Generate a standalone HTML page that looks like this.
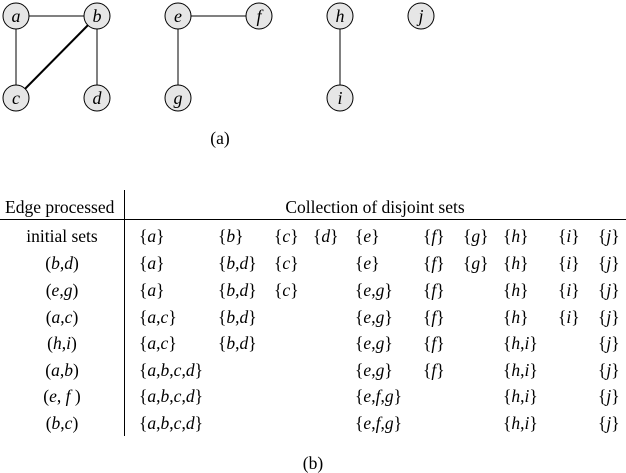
<!DOCTYPE html>
<html><head><meta charset="utf-8"><style>
html,body{margin:0;padding:0;background:#fff;}
svg{display:block;}
text{font-family:"Liberation Serif",serif;font-size:17.5px;fill:#000;}
text.n{font-style:italic;font-size:18px;}
.s{font-style:italic;}
</style></head><body>
<svg width="626" height="473" viewBox="0 0 626 473" xmlns="http://www.w3.org/2000/svg">
<g stroke="#000" stroke-width="1">
<line x1="16" y1="16" x2="97" y2="16"/>
<line x1="16" y1="16" x2="16" y2="98"/>
<line x1="97" y1="16" x2="97" y2="98"/>
<line x1="97" y1="16" x2="16" y2="98" stroke-width="2"/>
<line x1="178" y1="16" x2="259" y2="16"/>
<line x1="178" y1="16" x2="178" y2="98"/>
<line x1="340" y1="16" x2="340" y2="98"/>
</g>
<g fill="#e6e6e6" stroke="#000" stroke-width="1">
<circle cx="16" cy="16" r="13"/><circle cx="97" cy="16" r="13"/>
<circle cx="16" cy="98" r="13"/><circle cx="97" cy="98" r="13"/>
<circle cx="178" cy="16" r="13"/><circle cx="259" cy="16" r="13"/>
<circle cx="178" cy="98" r="13"/><circle cx="340" cy="16" r="13"/>
<circle cx="340" cy="98" r="13"/><circle cx="421" cy="16" r="13"/>
</g>
<g text-anchor="middle">
<text class="n" x="16" y="22">a</text><text class="n" x="97" y="22">b</text>
<text class="n" x="16" y="104">c</text><text class="n" x="97" y="104">d</text>
<text class="n" x="178" y="22">e</text><text class="n" x="259" y="22">f</text>
<text class="n" x="178" y="104">g</text><text class="n" x="340" y="22">h</text>
<text class="n" x="340" y="104">i</text><text class="n" x="421" y="22">j</text>
</g>
<text x="220" y="144" text-anchor="middle">(a)</text>

<line x1="124.5" y1="190" x2="124.5" y2="436" stroke="#000"/>
<line x1="0" y1="219.5" x2="626" y2="219.5" stroke="#000"/>
<text x="5" y="213">Edge processed</text>
<text x="375" y="213" text-anchor="middle">Collection of disjoint sets</text>

<g text-anchor="middle">
<text x="62" y="242">initial sets</text>
<text x="62" y="269">(<tspan class="s">b</tspan>,<tspan class="s">d</tspan>)</text>
<text x="62" y="296">(<tspan class="s">e</tspan>,<tspan class="s">g</tspan>)</text>
<text x="62" y="323">(<tspan class="s">a</tspan>,<tspan class="s">c</tspan>)</text>
<text x="62" y="349">(<tspan class="s">h</tspan>,<tspan class="s">i</tspan>)</text>
<text x="62" y="376">(<tspan class="s">a</tspan>,<tspan class="s">b</tspan>)</text>
<text x="62" y="402">(<tspan class="s">e</tspan>, <tspan class="s">f</tspan> )</text>
<text x="62" y="429">(<tspan class="s">b</tspan>,<tspan class="s">c</tspan>)</text>
</g>

<g>
<text x="139" y="242">{<tspan class="s">a</tspan>}</text><text x="218" y="242">{<tspan class="s">b</tspan>}</text><text x="274" y="242">{<tspan class="s">c</tspan>}</text><text x="313" y="242">{<tspan class="s">d</tspan>}</text><text x="355" y="242">{<tspan class="s">e</tspan>}</text><text x="423" y="242">{<tspan class="s">f</tspan>}</text><text x="463" y="242">{<tspan class="s">g</tspan>}</text><text x="503" y="242">{<tspan class="s">h</tspan>}</text><text x="558" y="242">{<tspan class="s">i</tspan>}</text><text x="598" y="242">{<tspan class="s">j</tspan>}</text>

<text x="139" y="269">{<tspan class="s">a</tspan>}</text><text x="218" y="269">{<tspan class="s">b</tspan>,<tspan class="s">d</tspan>}</text><text x="274" y="269">{<tspan class="s">c</tspan>}</text><text x="355" y="269">{<tspan class="s">e</tspan>}</text><text x="423" y="269">{<tspan class="s">f</tspan>}</text><text x="463" y="269">{<tspan class="s">g</tspan>}</text><text x="503" y="269">{<tspan class="s">h</tspan>}</text><text x="558" y="269">{<tspan class="s">i</tspan>}</text><text x="598" y="269">{<tspan class="s">j</tspan>}</text>

<text x="139" y="296">{<tspan class="s">a</tspan>}</text><text x="218" y="296">{<tspan class="s">b</tspan>,<tspan class="s">d</tspan>}</text><text x="274" y="296">{<tspan class="s">c</tspan>}</text><text x="355" y="296">{<tspan class="s">e</tspan>,<tspan class="s">g</tspan>}</text><text x="423" y="296">{<tspan class="s">f</tspan>}</text><text x="503" y="296">{<tspan class="s">h</tspan>}</text><text x="558" y="296">{<tspan class="s">i</tspan>}</text><text x="598" y="296">{<tspan class="s">j</tspan>}</text>

<text x="139" y="323">{<tspan class="s">a</tspan>,<tspan class="s">c</tspan>}</text><text x="218" y="323">{<tspan class="s">b</tspan>,<tspan class="s">d</tspan>}</text><text x="355" y="323">{<tspan class="s">e</tspan>,<tspan class="s">g</tspan>}</text><text x="423" y="323">{<tspan class="s">f</tspan>}</text><text x="503" y="323">{<tspan class="s">h</tspan>}</text><text x="558" y="323">{<tspan class="s">i</tspan>}</text><text x="598" y="323">{<tspan class="s">j</tspan>}</text>

<text x="139" y="349">{<tspan class="s">a</tspan>,<tspan class="s">c</tspan>}</text><text x="218" y="349">{<tspan class="s">b</tspan>,<tspan class="s">d</tspan>}</text><text x="355" y="349">{<tspan class="s">e</tspan>,<tspan class="s">g</tspan>}</text><text x="423" y="349">{<tspan class="s">f</tspan>}</text><text x="503" y="349">{<tspan class="s">h</tspan>,<tspan class="s">i</tspan>}</text><text x="598" y="349">{<tspan class="s">j</tspan>}</text>

<text x="139" y="376">{<tspan class="s">a</tspan>,<tspan class="s">b</tspan>,<tspan class="s">c</tspan>,<tspan class="s">d</tspan>}</text><text x="355" y="376">{<tspan class="s">e</tspan>,<tspan class="s">g</tspan>}</text><text x="423" y="376">{<tspan class="s">f</tspan>}</text><text x="503" y="376">{<tspan class="s">h</tspan>,<tspan class="s">i</tspan>}</text><text x="598" y="376">{<tspan class="s">j</tspan>}</text>

<text x="139" y="402">{<tspan class="s">a</tspan>,<tspan class="s">b</tspan>,<tspan class="s">c</tspan>,<tspan class="s">d</tspan>}</text><text x="355" y="402">{<tspan class="s">e</tspan>,<tspan class="s">f</tspan>,<tspan class="s">g</tspan>}</text><text x="503" y="402">{<tspan class="s">h</tspan>,<tspan class="s">i</tspan>}</text><text x="598" y="402">{<tspan class="s">j</tspan>}</text>

<text x="139" y="429">{<tspan class="s">a</tspan>,<tspan class="s">b</tspan>,<tspan class="s">c</tspan>,<tspan class="s">d</tspan>}</text><text x="355" y="429">{<tspan class="s">e</tspan>,<tspan class="s">f</tspan>,<tspan class="s">g</tspan>}</text><text x="503" y="429">{<tspan class="s">h</tspan>,<tspan class="s">i</tspan>}</text><text x="598" y="429">{<tspan class="s">j</tspan>}</text>
</g>
<text x="313" y="469" text-anchor="middle">(b)</text>
</svg>
</body></html>
